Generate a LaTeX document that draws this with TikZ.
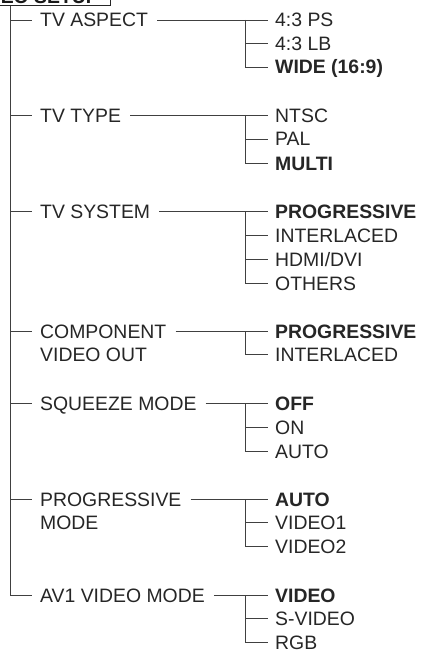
\documentclass[tikz,border=0pt]{standalone}
\usepackage{fontspec}
\setmainfont{Liberation Sans}
\begin{document}
\begin{tikzpicture}[x=1pt,y=-1pt,
  lbl/.style={anchor=west,inner sep=0pt,text height=14pt,text depth=0pt,font=\fontsize{19.4}{22}\selectfont,text=black!85},
  opt/.style={lbl},
  optb/.style={lbl,font=\fontsize{19.4}{22}\selectfont\bfseries},
  ln/.style={draw=black!75,line width=0.9pt}]
\useasboundingbox (0,0) rectangle (428,650);
\clip (0,0) rectangle (428,650);
\fill[white] (0,0) rectangle (428,650);
% title box
\node[draw=black!85,line width=1.2pt,anchor=south east,inner xsep=11.5pt,inner ysep=2pt,text height=14pt,text depth=0pt,font=\fontsize{19.4}{22}\selectfont\bfseries,text=black!90] (title) at (111,6) {VIDEO SETUP};
\coordinate (trunk) at (10.5,6);
% group 1
\node[lbl] (a) at (40,20) {TV ASPECT};
\node[opt] (a1) at (275,20) {4:3 PS};
\node[opt] (a2) at (275,43.5) {4:3 LB};
\node[optb] (a3) at (275,67) {WIDE (16:9)};
% group 2
\node[lbl] (b) at (40,115) {TV TYPE};
\node[opt] (b1) at (275,115) {NTSC};
\node[opt] (b2) at (275,139) {PAL};
\node[optb] (b3) at (275,163) {MULTI};
% group 3
\node[lbl] (c) at (40,211) {TV SYSTEM};
\node[optb] (c1) at (275,211) {PROGRESSIVE};
\node[opt] (c2) at (275,235) {INTERLACED};
\node[opt] (c3) at (275,259) {HDMI/DVI};
\node[opt] (c4) at (275,283) {OTHERS};
% group 4
\node[lbl] (d) at (40,331) {COMPONENT};
\node[lbl] (dd) at (40,354.5) {VIDEO OUT};
\node[optb] (d1) at (275,331) {PROGRESSIVE};
\node[opt] (d2) at (275,354.5) {INTERLACED};
% group 5
\node[lbl] (e) at (40,403) {SQUEEZE MODE};
\node[optb] (e1) at (275,403) {OFF};
\node[opt] (e2) at (275,427) {ON};
\node[opt] (e3) at (275,451) {AUTO};
% group 6
\node[lbl] (f) at (40,499) {PROGRESSIVE};
\node[lbl] (ff) at (40,522.5) {MODE};
\node[optb] (f1) at (275,499) {AUTO};
\node[opt] (f2) at (275,522.5) {VIDEO1};
\node[opt] (f3) at (275,546.5) {VIDEO2};
% group 7
\node[lbl] (g) at (40,595) {AV1 VIDEO MODE};
\node[optb] (g1) at (275,595) {VIDEO};
\node[opt] (g2) at (275,618.5) {S-VIDEO};
\node[opt] (g3) at (275,642) {RGB};
% trunk
\draw[ln] (trunk) |- ([xshift=-8pt]g.west);
\foreach \n in {a,b,c,d,e,f}
  \draw[ln] ([xshift=-29.5pt]\n.west) -- ([xshift=-8pt]\n.west);
% level-2 connectors
\foreach \p/\first/\last in {a/a1/a3,b/b1/b3,c/c1/c4,d/d1/d2,e/e1/e3,f/f1/f3,g/g1/g3}{
  \draw[ln] ([xshift=9pt]\p.east) -- ([xshift=-7pt]\first.west);
  \draw[ln] ([xshift=-30pt]\first.west) |- ([xshift=-7pt]\last.west);
}
\foreach \m in {a2,b2,c2,c3,e2,f2,g2}
  \draw[ln] ([xshift=-30pt]\m.west) -- ([xshift=-7pt]\m.west);
\end{tikzpicture}
\end{document}
